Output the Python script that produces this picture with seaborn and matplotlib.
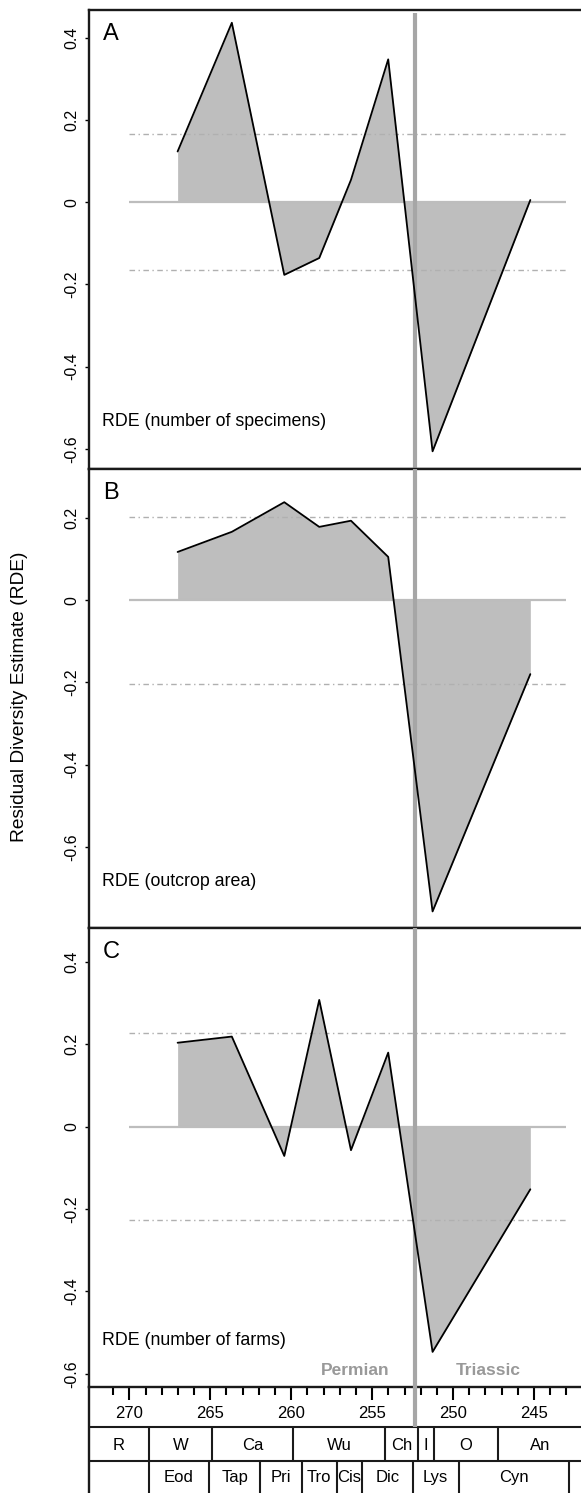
#Residual diversity estimates across the Permian-Triassic boundary

import matplotlib
matplotlib.use("Agg")
import matplotlib.pyplot as plt
from matplotlib.ticker import FuncFormatter
import seaborn as sns

sns.set_theme(style="white")
plt.rcParams["font.family"] = ["Liberation Sans", "DejaVu Sans"]
plt.rcParams.update({"axes.unicode_minus": False, "text.color": "black", "axes.labelcolor": "black",
                     "xtick.color": "black", "ytick.color": "black"})

NARROW = ["Liberation Sans Narrow", "Liberation Sans", "DejaVu Sans"]
COLORS = {"fill": "#bebebe", "zero": "#bdbdbd", "thr": "#b0b0b0", "pt": "#a6a6a6", "frame": "#1a1a1a", "period": "#999999"}

# data (ages in Ma)
ages = [267.02, 263.67, 260.43, 258.27, 256.31, 254.01, 251.27, 245.23]
rde_specimens = [0.123, 0.436, -0.177, -0.136, 0.054, 0.347, -0.606, 0.005]
rde_outcrop = [0.117, 0.166, 0.238, 0.178, 0.193, 0.105, -0.757, -0.180]
rde_farms = [0.204, 0.219, -0.071, 0.308, -0.057, 0.180, -0.547, -0.152]
thr_specimens = 0.165
thr_outcrop = 0.203
thr_farms = 0.227
pt_boundary = 252.35

stage_edges = [268.8, 264.9, 259.9, 254.2, 252.2, 251.2, 247.2]
stage_labels = ["R", "W", "Ca", "Wu", "Ch", "I", "O", "An"]
sub_edges = [268.8, 265.1, 261.9, 259.35, 257.2, 255.6, 252.5, 249.65, 242.85]
sub_labels = ["", "Eod", "Tap", "Pri", "Tro", "Cis", "Dic", "Lys", "Cyn", ""]
major_ticks = [270, 265, 260, 255, 250, 245]
minor_ticks = [a for a in range(243, 272) if a % 5 != 0]

XLIM = (272.5, 242.1)
W, H = 581, 1493

fig = plt.figure(figsize=(W / 100, H / 100), dpi=100)
left = 88.9 / W
panel_h = 459.0

panels = [
    ("A", rde_specimens, thr_specimens, "RDE (number of specimens)", 10.0, (-0.649, 0.467), [-0.6, -0.4, -0.2, 0, 0.2, 0.4]),
    ("B", rde_outcrop, thr_outcrop, "RDE (outcrop area)", 469.3, (-0.798, 0.318), [-0.6, -0.4, -0.2, 0, 0.2]),
    ("C", rde_farms, thr_farms, "RDE (number of farms)", 928.3, (-0.633, 0.482), [-0.6, -0.4, -0.2, 0, 0.2, 0.4]),
]

fmt = FuncFormatter(lambda v, p: "%g" % (round(v, 1) + 0.0))
axes = []
for i, (letter, vals, thr, label, top, ylim, yt) in enumerate(panels):
    ax = fig.add_axes([left, 1 - (top + panel_h) / H, 1 - left, panel_h / H])
    ax.fill_between(ages, vals, 0, color=COLORS["fill"], lw=0, zorder=1)
    ax.hlines(0, 270, 243, color=COLORS["zero"], lw=1.6, zorder=1.5)
    ax.hlines([thr, -thr], 270, 243, color=COLORS["thr"], lw=1.0, linestyle=(0, (4, 2.5, 1, 2.5)), zorder=1.6)
    ymax = 1 - 2.7 / panel_h if i == 0 else 1
    ax.axvline(pt_boundary, ymin=0, ymax=ymax, color=COLORS["pt"], lw=3, zorder=3, solid_capstyle="butt")
    sns.lineplot(x=ages, y=vals, ax=ax, color="black", lw=1.3, zorder=4)

    ax.set_xlim(*XLIM)
    ax.set_ylim(*ylim)
    ax.set_yticks(yt)
    ax.yaxis.set_major_formatter(fmt)
    ax.tick_params(axis="y", direction="out", length=3, width=1, pad=4, labelsize=11.5, left=True, colors="black")
    for t in ax.get_yticklabels():
        t.set_rotation(90)
        t.set_va("center")
    for s in ["left", "top", "bottom"]:
        ax.spines[s].set_color(COLORS["frame"])
        ax.spines[s].set_linewidth(1.7)
    ax.spines["right"].set_visible(False)
    ax.set_xlabel("")
    ax.set_ylabel("")

    ax.text(14 / 492.1, 1 - 24 / panel_h, letter, transform=ax.transAxes, ha="left", va="center", fontsize=17, family=NARROW)
    ax.text(13 / 492.1, 47 / panel_h, label, transform=ax.transAxes, ha="left", va="center", fontsize=12.8)
    axes.append(ax)

for ax in axes[:2]:
    ax.tick_params(axis="x", bottom=False, labelbottom=False)

axc = axes[2]
axc.set_xticks(major_ticks)
axc.set_xticks(minor_ticks, minor=True)
axc.set_xticklabels([str(t) for t in major_ticks])
axc.tick_params(axis="x", which="major", direction="out", length=9, width=1.5, pad=4.5, labelsize=12, bottom=True, colors="black")
axc.tick_params(axis="x", which="minor", direction="out", length=5.5, width=1.5, bottom=True, colors="black")
for t in axc.get_xticklabels():
    t.set_family(NARROW)

tb = axc.get_xaxis_transform()
axc.text(256.02, 0.0366, "Permian", transform=tb, ha="center", va="center", fontsize=12.5, fontweight="bold", color=COLORS["period"])
axc.text(247.81, 0.0366, "Triassic", transform=tb, ha="center", va="center", fontsize=12.5, fontweight="bold", color=COLORS["period"])

# timescale bar
ts_h = H - 1387.3
ts = fig.add_axes([left, 0, 1 - left, ts_h / H])
ts.patch.set_alpha(0)
ts.set_xlim(*XLIM)
ts.set_ylim(ts_h, 0)
row1, row2 = 40.0, 73.4
ts.axhline(row1, color=COLORS["frame"], lw=1.5)
ts.axhline(row2, color=COLORS["frame"], lw=1.5)
ts.vlines(stage_edges, row1, row2, color=COLORS["frame"], lw=1.5)
ts.vlines(sub_edges, row2, ts_h, color=COLORS["frame"], lw=1.5)
ts.axvline(pt_boundary, ymin=(ts_h - row1) / ts_h, ymax=1, color=COLORS["pt"], lw=3, zorder=3, solid_capstyle="butt")

s_bounds = [XLIM[0]] + stage_edges + [XLIM[1]]
for lab, a, b in zip(stage_labels, s_bounds[:-1], s_bounds[1:]):
    ts.text((a + b) / 2, (row1 + row2) / 2 + 1, lab, ha="center", va="center", fontsize=12, family=NARROW)
u_bounds = [XLIM[0]] + sub_edges + [XLIM[1]]
for lab, a, b in zip(sub_labels, u_bounds[:-1], u_bounds[1:]):
    if lab:
        ts.text((a + b) / 2, (row2 + ts_h) / 2 + 1, lab, ha="center", va="center", fontsize=12, family=NARROW)

ts.set_xticks([])
ts.set_yticks([])
for s in ["top", "right", "bottom"]:
    ts.spines[s].set_visible(False)
ts.spines["left"].set_color(COLORS["frame"])
ts.spines["left"].set_linewidth(1.7)

fig.text(20 / W, 1 - 697 / H, "Residual Diversity Estimate (RDE)", rotation=90, ha="center", va="center", fontsize=13.75)

plt.savefig("out.png", dpi=100)
plt.close()
